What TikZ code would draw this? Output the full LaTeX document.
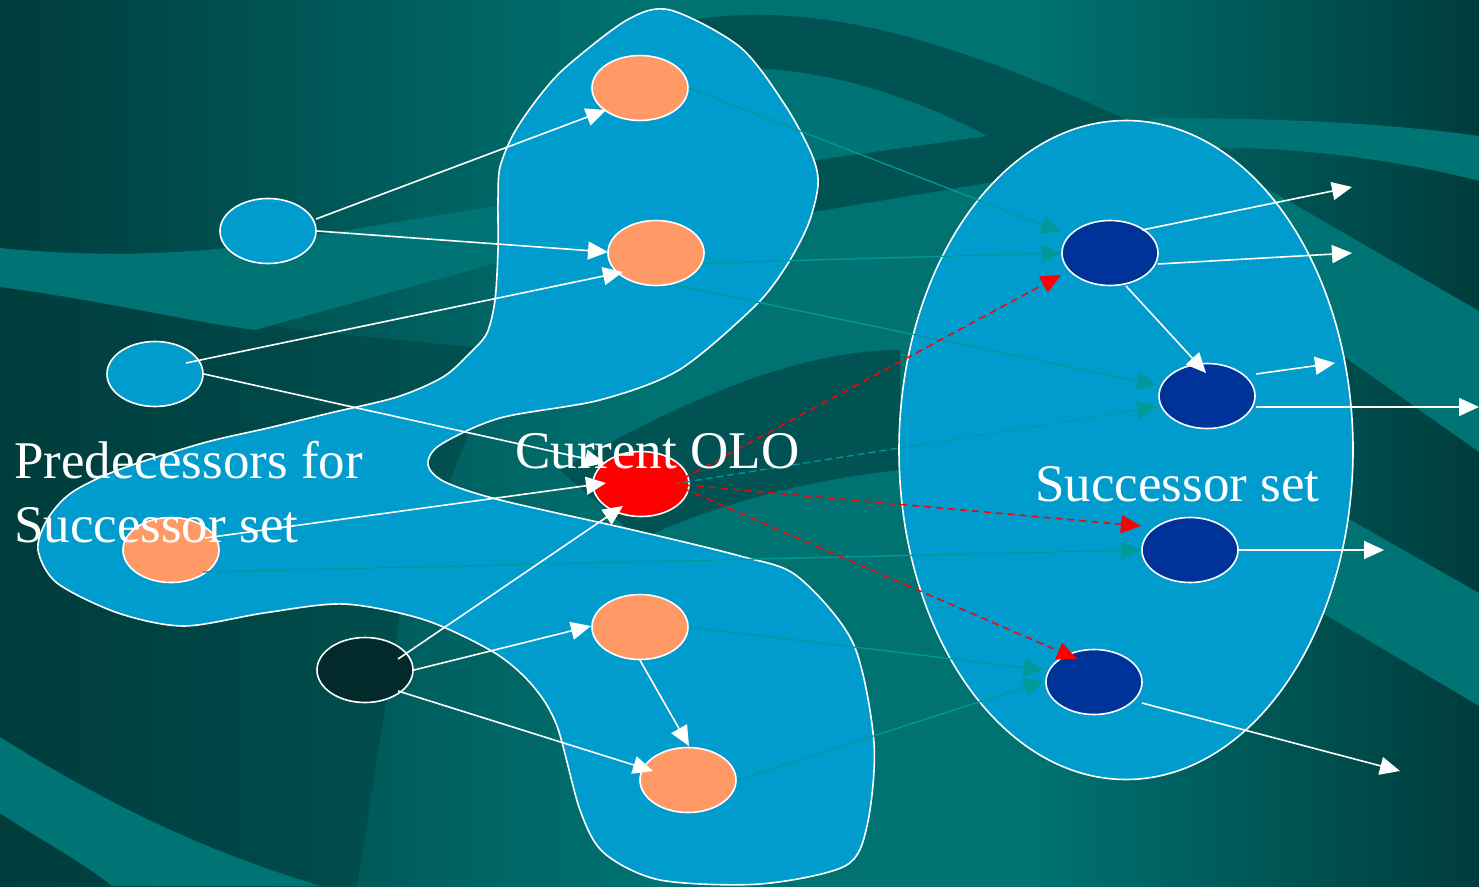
\documentclass[tikz,border=0pt]{standalone}
\usepackage{fontspec}
\setmainfont{Liberation Serif}
\usetikzlibrary{shapes.geometric,arrows.meta,calc}
\definecolor{bgdark}{HTML}{003C3C}
\definecolor{bglight}{HTML}{007272}
\definecolor{banddark}{HTML}{015252}
\definecolor{bandlight}{HTML}{007474}
\definecolor{setblue}{HTML}{009CCD}
\definecolor{peach}{HTML}{FF9966}
\definecolor{navy}{HTML}{003399}
\definecolor{olored}{HTML}{FF0000}
\definecolor{blackteal}{HTML}{032A2A}
\definecolor{tealline}{HTML}{009999}
\pgfdeclarehorizontalshading{bgshade}{100bp}{color(0bp)=(bgdark); color(25bp)=(bgdark); color(47bp)=(bglight); color(60bp)=(bglight); color(75bp)=(bgdark); color(100bp)=(bgdark)}
\begin{document}
\begin{tikzpicture}[x=1pt,y=-1pt,
  obj/.style={ellipse, draw=white, line width=1.6pt, minimum width=96pt, minimum height=65pt, inner sep=0pt},
  wh/.style={draw=white, line width=1.6pt, -{Triangle[length=20pt,width=18pt]}},
  tl/.style={draw=tealline, line width=1.3pt, -{Triangle[length=20pt,width=18pt]}},
  rd/.style={draw=olored, line width=1.5pt, dash pattern=on 7pt off 5pt, -{Triangle[length=20pt,width=18pt]}},
  lbl/.style={text=white, font=\fontsize{53}{64}\selectfont, inner sep=0pt, anchor=base west}]
\useasboundingbox (0,0) rectangle (1479,886);
% background
\shade[shading=bgshade] (0,0) rectangle (1479,886);
\shade[left color=bgdark, right color=banddark] (0,290) -- (300,330) -- (500,350) -- (400,613) -- (357,886) -- (0,886) -- cycle;
\fill[bandlight] (0,248) .. controls (100,258) and (200,255) .. (300,238) -- (500,205) -- (500,262) -- (255,330) .. controls (180,320) and (100,300) .. (0,287) -- cycle;
\fill[bandlight] (0,737) .. controls (100,800) and (200,850) .. (321,886) -- (112,886) .. controls (80,860) and (40,840) .. (0,813) -- cycle;
\fill[banddark] (690,20) .. controls (820,0) and (950,40) .. (1130,121) -- (1150,180) -- (993,182) -- (813,212) -- (690,235) -- cycle;
\fill[bandlight] (700,70) .. controls (800,60) and (900,90) .. (987,136) -- (817,160) -- (700,178) -- cycle;
\fill[banddark] (560,470) .. controls (650,420) and (780,350) .. (900,350) -- (900,470) .. controls (800,480) and (700,510) .. (640,540) -- cycle;
\fill[bandlight] (1150,118) .. controls (1300,118) and (1400,125) .. (1479,136) -- (1479,181) .. controls (1400,160) and (1300,148) .. (1230,148) -- (1150,150) -- cycle;
\fill[bandlight] (1200,150) -- (1479,311) -- (1479,452) -- (1250,290) -- cycle;
\fill[bandlight] (1250,463) -- (1479,593) -- (1479,706) -- (1250,570) -- cycle;
% predecessor blob
\draw[fill=setblue, draw=white, line width=1.6pt] plot[smooth cycle, tension=0.5] coordinates {
 (670,10) (740,47) (785,105) (812,155) (818,185) (808,225) (785,268) (754,307) (679,370) (600,400) (500,418) (440,445) (428,465) (445,482) (500,500) (633,530) (740,556) (797,576) (853,643) (874,743) (867,826) (845,866) (760,884) (660,880) (604,853) (580,810) (557,726) (533,686) (495,653) (425,620) (344,604) (264,613) (184,626) (118,613) (57,583) (38,550) (47,520) (71,493) (118,470) (203,443) (268,428) (330,413) (397,397) (443,377) (470,353) (487,333) (495,300) (498,250) (498,200) (500,167) (514,133) (538,98) (566,67) (627,20)};
% successor set
\node[ellipse, draw=white, fill=setblue, line width=1.6pt, minimum width=454pt, minimum height=659pt, inner sep=0pt] (sset) at (1126,450) {};
% nodes
\node[obj, fill=setblue] (a1) at (268,231) {};
\node[obj, fill=setblue] (a2) at (155,374) {};
\node[obj, fill=peach] (p1) at (640,88) {};
\node[obj, fill=peach] (p2) at (656,253) {};
\node[obj, fill=peach] (p3) at (171,550) {};
\node[obj, fill=peach] (p4) at (640,627) {};
\node[obj, fill=peach] (p5) at (688,780) {};
\node[obj, fill=blackteal] (dk) at (365,670) {};
\node[obj, fill=olored] (cur) at (641,484) {};
\node[obj, fill=navy] (s1) at (1110,253) {};
\node[obj, fill=navy] (s2) at (1207,396) {};
\node[obj, fill=navy] (s3) at (1190,550) {};
\node[obj, fill=navy] (s4) at (1094,682) {};
\coordinate (o1) at (1352,187);
\coordinate (o2) at (1352,253);
\coordinate (o3) at (1335,363);
\coordinate (o4) at (1479,407);
\coordinate (o5) at (1384,550);
\coordinate (o6) at (1400,771);
% teal edges
\draw[tl] (p1.east) -- ($(s1)+(-49,-21)$);
\draw[tl] ($(p2)+(49,10)$) -- (s1.west);
\draw[tl] ($(p2)+(19,32)$) -- ($(s2)+(-50,-11)$);
\draw[tl, dash pattern=on 7pt off 4pt] ($(cur)+(32,0)$) -- ($(s2)+(-50,11)$);
\draw[tl] ($(p3)+(32,22)$) -- (s3.west);
\draw[tl] (p4.east) -- ($(s4)+(-50,-12)$);
\draw[tl] (p5.east) -- ($(s4)+(-50,-1)$);
% white edges
\draw[wh] ($(a1)+(48,-12)$) -- ($(p1)+(-34,22)$);
\draw[wh] ($(a1)+(49,0)$) -- ($(p2)+(-48,-1)$);
\draw[wh] ($(a2)+(31,-11)$) -- ($(p2)+(-33,19)$);
\draw[wh] ($(a2)+(49,0)$) -- ($(cur)+(-36,-21)$);
\draw[wh] ($(p3)+(34,-12)$) -- ($(cur)+(-35,-1)$);
\draw[wh] ($(dk)+(33,-11)$) -- ($(cur)+(-18,22)$);
\draw[wh] ($(dk)+(49,0)$) -- ($(p4)+(-49,-1)$);
\draw[wh] ($(dk)+(33,21)$) -- ($(p5)+(-35,-9)$);
\draw[wh] (p4.south) -- ($(p5)+(1,-34)$);
\draw[wh] ($(s1)+(32,-23)$) -- (o1);
\draw[wh] ($(s1)+(48,11)$) -- (o2);
\draw[wh] ($(s1)+(16,33)$) -- ($(s2)+(-1,-23)$);
\draw[wh] ($(s2)+(49,-22)$) -- (o3);
\draw[wh] ($(s2)+(49,11)$) -- (o4);
\draw[wh] (s3.east) -- (o5);
\draw[wh] ($(s4)+(48,21)$) -- (o6);
% red dashed edges
\draw[rd] ($(cur)+(32,0)$) -- ($(s1)+(-49,22)$);
\draw[rd] ($(cur)+(32,0)$) -- ($(s3)+(-49,-24)$);
\draw[rd] ($(cur)+(32,0)$) -- ($(s4)+(-17,-23)$);
% labels
\node[lbl] (t1) at (515,468) {Current OLO};
\node[lbl] (t2) at (14,478) {Predecessors for};
\node[lbl] (t3) at (14,542) {Successor set};
\node[lbl] (t4) at (1035,501) {Successor set};
\end{tikzpicture}
\end{document}
